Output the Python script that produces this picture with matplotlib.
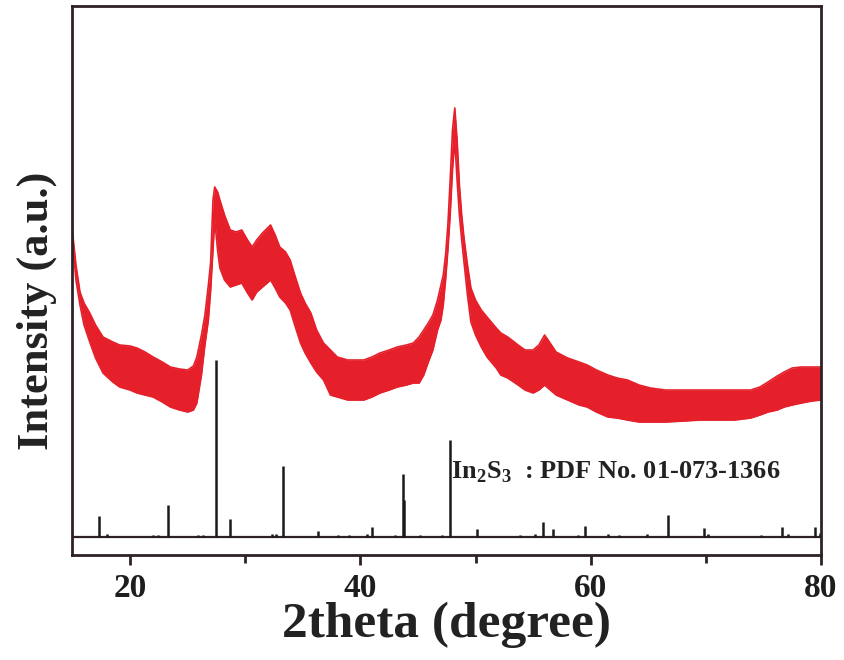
import matplotlib
matplotlib.use("Agg")
import matplotlib.pyplot as plt
from matplotlib.ticker import MultipleLocator

plt.rcParams['font.family'] = ['Liberation Serif', 'DejaVu Serif']
plt.rcParams['font.weight'] = 'bold'
plt.rcParams['mathtext.fontset'] = 'custom'
plt.rcParams['mathtext.rm'] = 'Liberation Serif:bold'
plt.rcParams['mathtext.bf'] = 'Liberation Serif:bold'

# measured XRD band (2theta, upper and lower edge of the noisy trace), arbitrary units
two_theta = [15.0, 15.3, 15.65, 16.0, 16.5, 17.0, 17.65, 18.5, 19.1, 20.0, 20.6, 21.3,
             22.0, 22.8, 23.5, 24.3, 25.0, 25.5, 25.8, 26.2, 26.5, 26.8, 27.0, 27.2,
             27.35, 27.6, 27.8, 28.2, 28.7, 29.2, 29.7, 30.2, 30.6, 31.0, 31.5, 32.2,
             32.6, 33.0, 33.5, 33.9, 34.3, 34.8, 35.2, 35.7, 36.2, 36.8, 37.4, 38.0,
             38.9, 40.3, 41.0, 41.7, 42.5, 43.2, 44.0, 44.6, 45.1, 45.5, 45.9, 46.3,
             46.7, 47.0, 47.2, 47.4, 47.6, 47.8, 48.0, 48.2, 48.4, 48.6, 48.8, 49.0,
             49.3, 49.6, 50.0, 50.5, 51.0, 51.8, 52.2, 52.8, 53.7, 54.3, 55.0, 55.5,
             56.0, 56.3, 57.0, 58.0, 59.0, 59.7, 60.5, 61.5, 62.3, 63.2, 64.2, 65.2,
             66.5, 68.1, 69.5, 71.0, 72.5, 73.9, 74.7, 75.4, 76.2, 76.8, 77.5, 78.3,
             79.2, 80.0]
top_px = [232, 265, 292, 303, 313, 325, 337, 342, 345, 346, 348, 352,
          357, 362, 367, 369, 370, 366, 357, 335, 315, 285, 262, 200,
          187, 192, 200, 215, 230, 232, 230, 240, 247, 240, 233, 225,
          235, 247, 252, 260, 275, 293, 303, 313, 330, 343, 350, 357,
          360, 360, 357, 353, 350, 347, 345, 343, 337, 330, 323, 315,
          300, 285, 275, 255, 225, 180, 130, 108, 140, 185, 215, 238,
          265, 288, 300, 310, 317, 328, 333, 337, 345, 350, 350, 345,
          335, 340, 352, 358, 362, 365, 370, 375, 378, 380, 385, 388,
          390, 390, 390, 390, 390, 390, 387, 382, 376, 372, 368, 367,
          367, 367]
bottom_px = [240, 280, 305, 325, 342, 358, 373, 382, 387, 390, 393, 395,
             397, 402, 407, 410, 412, 410, 403, 375, 345, 320, 290, 250,
             220, 250, 268, 280, 287, 285, 283, 293, 300, 292, 287, 280,
             288, 297, 303, 310, 325, 343, 353, 363, 372, 380, 395, 397,
             400, 400, 397, 393, 390, 387, 385, 383, 383, 375, 362, 350,
             330, 320, 305, 280, 250, 215, 170, 140, 180, 215, 240, 262,
             295, 322, 335, 347, 357, 368, 375, 378, 385, 390, 393, 390,
             385, 388, 395, 400, 405, 407, 412, 417, 418, 420, 422, 422,
             422, 421, 420, 420, 420, 418, 415, 412, 410, 407, 405, 403,
             401, 400]
upper = [555 - v for v in top_px]
lower = [555 - v for v in bottom_px]

# In2S3 reference pattern, PDF 01-073-1366
ref_pos = [17.3, 18.0, 22.0, 22.4, 23.3, 25.9, 26.3, 27.5, 28.7, 32.3, 32.7, 33.3,
           36.3, 38.1, 39.0, 40.6, 41.0, 43.0, 43.7, 43.8, 45.2, 47.1, 47.8, 50.1,
           53.9, 55.2, 55.9, 56.7, 58.9, 59.5, 61.5, 62.5, 64.9, 66.7, 69.8, 70.2,
           74.8, 76.6, 77.1, 79.5, 79.9]
ref_height = [21, 3, 2, 2, 32, 2, 2, 177, 18, 3, 3, 71,
              6, 2, 2, 3, 10, 2, 63, 37, 2, 2, 97, 8,
              2, 3, 15, 8, 2, 11, 3, 2, 3, 22, 9, 3,
              2, 10, 3, 10, 4]
ref_base = 18

red = '#e5202b'
frame = '#2e2226'

fig = plt.figure(figsize=(8.44, 6.6), dpi=100)
ax = fig.add_axes([0.0859, 0.159, 0.8868, 0.832])

ax.fill_between(two_theta, lower, upper, color=red, linewidth=0)
ax.plot(two_theta, upper, color=red, lw=1.2)
ax.plot(two_theta, lower, color=red, lw=1.2)

ax.axhline(ref_base, color=frame, lw=1.6)
ax.vlines(ref_pos, ref_base, [ref_base + h for h in ref_height], color='#1a1a1a', lw=1.8)

ax.text(47.9, 83, r'In$_\mathbf{2}$S$_\mathbf{3}$  : PDF No. 01-073-1366', fontsize=19,
        fontweight='bold', color='#222222', va='center', ha='left')

ax.set_xlim(15, 80)
ax.set_ylim(0, 549)
ax.xaxis.set_major_locator(MultipleLocator(20))
ax.xaxis.set_minor_locator(MultipleLocator(10))
ax.tick_params(axis='x', which='major', direction='out', length=7, width=2,
               labelsize=24, colors=frame, pad=6)
ax.tick_params(axis='x', which='minor', direction='out', length=6, width=2, colors=frame)
ax.tick_params(axis='x', labelcolor='#1e1e1e')
ax.set_yticks([])
for s in ax.spines.values():
    s.set_linewidth(2)
    s.set_color(frame)

ax.set_xlabel('2theta (degree)', fontsize=37, fontweight='bold', labelpad=-2, color='#222222')
ax.set_ylabel('Intensity (a.u.)', fontsize=32, fontweight='bold', color='#222222')
ax.yaxis.set_label_coords(-0.021, 0.445)

fig.savefig('out.png', dpi=100)
